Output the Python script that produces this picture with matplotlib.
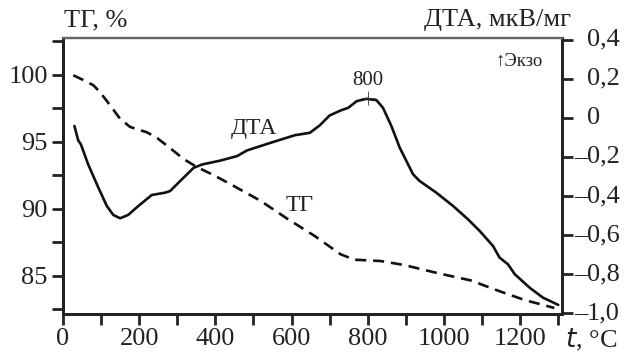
import matplotlib
matplotlib.use("Agg")
import matplotlib.pyplot as plt
from matplotlib.ticker import FixedLocator, FuncFormatter, NullFormatter
from matplotlib.transforms import blended_transform_factory, offset_copy

plt.rcParams['font.family'] = ['Liberation Serif', 'DejaVu Serif']

# ---- data ----
tg_t = [27, 53, 80, 97, 124, 150, 176, 220, 246, 282, 317, 352, 396, 448, 518,
        589, 659, 729, 765, 834, 896, 983, 1071, 1141, 1211, 1290]
tg = [99.95, 99.6, 99.2, 98.7, 97.7, 96.7, 96.1, 95.7, 95.3, 94.5, 93.7, 93.1,
      92.5, 91.7, 90.6, 89.25, 88.0, 86.6, 86.2, 86.1, 85.8, 85.2, 84.65, 83.9,
      83.2, 82.6]

dta_t = [30, 40, 47, 66, 93, 115, 132, 150, 171, 198, 233, 268, 281, 312, 343,
         365, 413, 457, 483, 545, 609, 648, 674, 700, 731, 749, 771, 797, 823,
         840, 862, 884, 919, 936, 980, 1024, 1063, 1094, 1129, 1146, 1168, 1186,
         1225, 1260, 1300]
dta = [-0.042, -0.116, -0.136, -0.238, -0.358, -0.451, -0.497, -0.514, -0.497,
       -0.451, -0.395, -0.383, -0.375, -0.315, -0.256, -0.239, -0.219, -0.196,
       -0.167, -0.128, -0.089, -0.077, -0.039, 0.012, 0.039, 0.051, 0.085, 0.097,
       0.090, 0.051, -0.042, -0.153, -0.289, -0.323, -0.383, -0.451, -0.519,
       -0.579, -0.656, -0.715, -0.749, -0.800, -0.869, -0.920, -0.957]

x_ticks = list(range(0, 1301, 100))
x_labels = [0, 200, 400, 600, 800, 1000, 1200]
tg_ticks = [82.5, 85, 87.5, 90, 92.5, 95, 97.5, 100, 102.5]
tg_labels = [85, 90, 95, 100]
dta_ticks = [-1.0, -0.8, -0.6, -0.4, -0.2, 0.0, 0.2, 0.4]
peak_t = 800
peak_dta = 0.10

FS = 19
INK = '#222222'

fig = plt.figure(figsize=(6.34, 3.54), dpi=100)
ax = fig.add_axes([63 / 634, 1 - 314 / 354, (562 - 63) / 634, (314 - 38) / 354])
ax2 = ax.twinx()

ax.plot(tg_t, tg, color='#111111', lw=1.9, ls=(0, (4.2, 2.6)), dash_capstyle='butt')
ax2.plot(dta_t, dta, color='#111111', lw=1.9, solid_joinstyle='round',
         solid_capstyle='round')
ax2.plot([peak_t], [peak_dta], marker='+', ms=10, mew=0.6, color='#333333')

ax.set_xlim(0, 1310)
ax.set_ylim(82.15, 102.73)
ax2.set_ylim(-1.0036, 0.408)

# ticks
ax.xaxis.set_major_locator(FixedLocator(x_ticks))
ax.xaxis.set_major_formatter(FuncFormatter(
    lambda v, p: f"{int(round(v))}" if int(round(v)) in x_labels else ""))
ax.yaxis.set_major_locator(FixedLocator(tg_ticks))
ax.yaxis.set_major_formatter(FuncFormatter(
    lambda v, p: f"{int(round(v))}" if abs(v - round(v)) < 1e-6 and int(round(v)) in tg_labels else ""))

ax2.yaxis.set_major_locator(FixedLocator(dta_ticks))
ax2.yaxis.set_major_formatter(NullFormatter())

for a in (ax, ax2):
    a.tick_params(direction='out', length=8, width=2.0, labelsize=FS, color=INK,
                  labelcolor=INK)
ax.tick_params(axis='x', pad=2)
ax.tick_params(axis='y', pad=3)

# right-hand tick labels: digits aligned, minus hanging to the left
tr = blended_transform_factory(ax2.transAxes, ax2.transData)
tr_digits = offset_copy(tr, fig=fig, x=18, y=0, units='points')
for v in dta_ticks:
    s = "0" if abs(v) < 1e-9 else f"{abs(v):.1f}".replace('.', ',')
    ax2.text(1.0, v, s, transform=tr_digits, ha='left', va='center',
             fontsize=FS, color=INK, clip_on=False)
    if v < -1e-9:
        ax2.text(1.0, v, "\u2013", transform=tr_digits, ha='right', va='center',
                 fontsize=FS, color=INK, clip_on=False)

for a in (ax, ax2):
    for side in ('left', 'right', 'bottom'):
        a.spines[side].set_linewidth(2.0)
        a.spines[side].set_color(INK)
    a.spines['top'].set_linewidth(1.6)
    a.spines['top'].set_color('#666666')

# in-plot labels
ax2.text(502, -0.053, "ДТА", fontsize=17, ha='center', va='center', color=INK)
ax2.text(620, -0.451, "ТГ", fontsize=17, ha='center', va='center', color=INK)
ax2.text(peak_t, 0.19, "800", fontsize=15, ha='center', va='center', color=INK)
ax2.text(1197, 0.29, "\u2191Экзо", fontsize=13.5, ha='center', va='center', color=INK)

# axis titles
fig.text(64 / 634, 1 - 20 / 354, "ТГ, %", fontsize=FS, ha='left', va='center', color=INK)
fig.text(571 / 634, 1 - 20 / 354, "ДТА, мкВ/мг", fontsize=FS, ha='right', va='center', color=INK)
fig.text(591 / 634, 1 - 340 / 354, r"$\it{t}$, °C", fontsize=FS, ha='center', va='center', color=INK)

fig.savefig("out.png", dpi=100)
